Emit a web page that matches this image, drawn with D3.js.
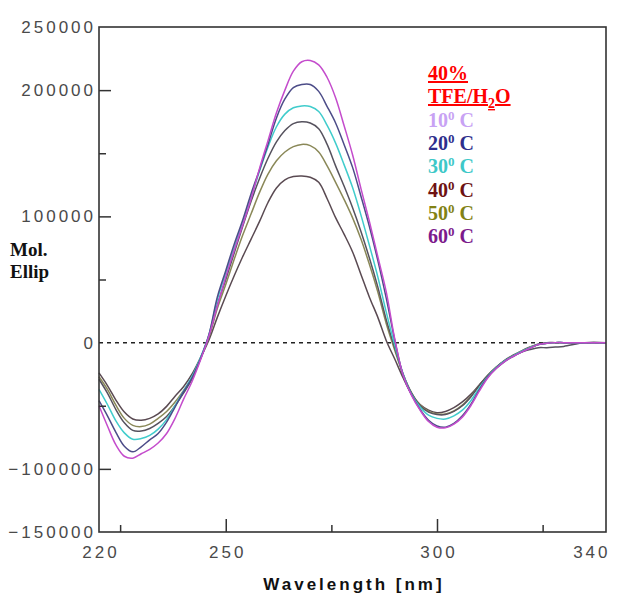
<!DOCTYPE html>
<html>
<head>
<meta charset="utf-8">
<script src="https://cdn.jsdelivr.net/npm/d3@7"></script>
<style>
  html, body { margin: 0; padding: 0; background: #fff; }
  svg { display: block; }
</style>
</head>
<body>
<svg id="chart" width="622" height="602"></svg>
<script>
// ---------- DATA ----------
const wavelengths = [220,222,224,226,228,230,232,234,236,238,240,242,244,246,248,250,252,254,256,258,260,262,264,266,268,270,272,274,276,278,280,282,284,286,288,290,292,294,296,298,300,302,304,306,308,310,312,314,316,318,320,322,324,326,328,330,335,340];

const seriesA = [-50000,-66000,-81000,-90000,-91500,-88000,-84500,-79500,-72000,-60000,
  -45000,-31000,-14000,5000,29000,52000,73000,93000,114000,138000,
  160000,182000,200000,215000,222500,223500,220000,210000,194000,172000,
  149000,122000,96000,68000,40000,3000,-26000,-42000,-53500,-62500,
  -67000,-67500,-64500,-59000,-50000,-38500,-28000,-20500,-15000,-11000,
  -7500,-4500,-1500,-500,0,0,0,0];
const seriesB = [-46000,-58000,-71000,-82000,-86500,-82500,-77000,-72000,-63000,-51000,
  -39000,-28000,-13000,6000,36000,57000,78000,97000,118000,137000,
  157000,178000,193000,202000,204500,204500,199000,187000,174000,157000,
  139000,116000,92000,65000,35000,2000,-26000,-41500,-53000,-61500,
  -66000,-67000,-64000,-58000,-49000,-37500,-27500,-20500,-15000,-11000,
  -7500,-4500,-1500,-500,0,0,0,0];
const seriesC = [-37000,-49000,-62000,-71500,-76500,-76000,-73500,-68500,-61000,-50000,
  -38500,-27000,-12000,6000,34000,55000,75000,95000,115000,136000,
  155000,171000,181000,186000,187500,187000,183000,172000,158000,141000,
  123000,101000,77000,52000,24000,-2000,-25000,-41000,-51000,-57500,
  -60000,-60500,-58000,-53500,-46000,-36000,-27000,-20000,-14500,-10500,
  -7000,-4000,-1500,-500,0,0,0,0];
const seriesD = [-29000,-40000,-53000,-63500,-69500,-70000,-68000,-64000,-58500,-50000,
  -40000,-29000,-13000,5000,30000,50000,71000,92000,112000,130000,
  146000,159000,168000,173500,175000,174000,169500,157000,140000,124000,
  107000,88000,67000,44000,18000,-4000,-25000,-40000,-50000,-55000,
  -57000,-57000,-54500,-50000,-43000,-34000,-26000,-19500,-14500,-10500,
  -7500,-5500,-4000,-4000,-3500,-3000,0,0];
const seriesE = [-27000,-37000,-49500,-60000,-65500,-66500,-64500,-60000,-54500,-47000,
  -38000,-28000,-13000,4000,27000,46000,66000,85000,102000,119000,
  133500,144000,151000,155200,157000,156000,151000,140000,127000,113500,
  99000,82000,62000,40000,15000,-6000,-25500,-40000,-49500,-54500,
  -56500,-56500,-54000,-49500,-42500,-34000,-26000,-19500,-14500,-10500,
  -7000,-4000,-1500,-500,0,0,0,0];
const seriesF = [-24000,-34000,-45500,-55000,-60500,-61500,-60000,-56500,-50500,-42500,
  -35000,-25000,-12000,2000,20000,37000,53000,68000,82000,96000,
  111000,122500,129000,131500,132000,131000,127000,114000,99000,86000,
  72000,54000,36000,20000,1500,-13000,-28000,-41000,-49000,-53500,
  -55500,-54500,-51500,-47000,-41000,-33500,-26000,-19500,-14000,-10000,
  -6500,-3500,-1000,0,0,0,0,0];

const yTickLabels = [250000, 200000, 100000, 0, -100000, -150000];
const yMajorTicks = [200000, 100000, -100000];
const yMinorTicks = [150000, 50000, -50000];
const xTickLabels = [220, 250, 300, 340];
const xMajorTicks = [250, 300];
const xMinorTicks = [225, 275, 325];

const legendTitle1 = "40%";
const legendTitle2 = ["TFE/H", "2", "O"];
const legendTemps = ["10", "20", "30", "40", "50", "60"];

// ---------- STYLES ----------
const curveColors = ["#5a4a52", "#8a8858", "#56525e", "#40cccc", "#4c4c88", "#c44ccc"];
const curveSeries = [seriesF, seriesE, seriesD, seriesC, seriesB, seriesA];
const legendColors = ["#c8a2f4", "#2e2e8c", "#3ec8c8", "#6e1212", "#828214", "#7c1a8c"];

// ---------- LAYOUT ----------
const svg = d3.select("#chart");
const L = 99, R = 606, T = 27, B = 532;
const x = d3.scaleLinear().domain([220, 340]).range([L, R]);
const y = d3.scaleLinear().domain([-150000, 250000]).range([B, T]);

const tickFont = "'Liberation Sans', Arial, sans-serif";
const serif = "'Liberation Serif', 'Times New Roman', serif";

// zero dashed line
svg.append("line")
  .attr("x1", x(220)).attr("x2", x(340))
  .attr("y1", y(0)).attr("y2", y(0))
  .attr("stroke", "#222").attr("stroke-width", 1.5)
  .attr("stroke-dasharray", "4,4");

// curves
const line = d3.line()
  .x((d, i) => x(wavelengths[i]))
  .y(d => y(d))
  .curve(d3.curveCatmullRom.alpha(0.5));

svg.append("g").selectAll("path")
  .data(curveSeries)
  .join("path")
  .attr("d", d => line(d))
  .attr("fill", "none")
  .attr("stroke", (d, i) => curveColors[i])
  .attr("stroke-width", 1.5);

// frame
svg.append("rect")
  .attr("x", L).attr("y", T).attr("width", R - L).attr("height", B - T)
  .attr("fill", "none").attr("stroke", "#333").attr("stroke-width", 1.6);

// y axis labels
const yAxis = d3.axisLeft(y).tickValues(yTickLabels).tickSize(0).tickPadding(3)
  .tickFormat(d3.format("d"));
const gy = svg.append("g").attr("transform", `translate(${L},0)`).call(yAxis);
gy.select(".domain").remove();
gy.selectAll("text")
  .attr("font-family", tickFont).attr("font-size", 17)
  .attr("letter-spacing", "3px").attr("fill", "#4a4a4a");

// y inner ticks
const gyMaj = svg.append("g").attr("transform", `translate(${L},0)`)
  .call(d3.axisRight(y).tickValues(yMajorTicks).tickSize(12).tickFormat(""));
gyMaj.select(".domain").remove();
gyMaj.selectAll("line").attr("stroke", "#333").attr("stroke-width", 1.5);
const gyMin = svg.append("g").attr("transform", `translate(${L},0)`)
  .call(d3.axisRight(y).tickValues(yMinorTicks).tickSize(7).tickFormat(""));
gyMin.select(".domain").remove();
gyMin.selectAll("line").attr("stroke", "#333").attr("stroke-width", 1.5);

// x axis labels
const xAxis = d3.axisBottom(x).tickValues(xTickLabels).tickSize(0).tickPadding(14)
  .tickFormat(d3.format("d"));
const gx = svg.append("g").attr("transform", `translate(0,${B})`).call(xAxis);
gx.select(".domain").remove();
gx.selectAll("text")
  .attr("font-family", tickFont).attr("font-size", 17)
  .attr("letter-spacing", "3px").attr("fill", "#4a4a4a")
  .attr("dx", "1.5");
// last label sits flush against the right edge, as in the reference
gx.selectAll(".tick").filter(d => d === 340).select("text")
  .attr("text-anchor", "end").attr("dx", "4");

// x inner ticks
const gxMaj = svg.append("g").attr("transform", `translate(0,${B})`)
  .call(d3.axisTop(x).tickValues(xMajorTicks).tickSize(13).tickFormat(""));
gxMaj.select(".domain").remove();
gxMaj.selectAll("line").attr("stroke", "#333").attr("stroke-width", 1.5);
const gxMin = svg.append("g").attr("transform", `translate(0,${B})`)
  .call(d3.axisTop(x).tickValues(xMinorTicks).tickSize(7).tickFormat(""));
gxMin.select(".domain").remove();
gxMin.selectAll("line").attr("stroke", "#333").attr("stroke-width", 1.5);

// x axis title
svg.append("text")
  .attr("x", 354).attr("y", 590)
  .attr("text-anchor", "middle")
  .attr("font-family", tickFont).attr("font-weight", "bold")
  .attr("font-size", 17).attr("letter-spacing", "3px").attr("fill", "#111")
  .text("Wavelength [nm]");

// y axis title
svg.append("text").attr("x", 10).attr("y", 256)
  .attr("font-family", serif).attr("font-weight", "bold").attr("font-size", 19)
  .attr("fill", "#111").text("Mol.");
svg.append("text").attr("x", 10).attr("y", 278)
  .attr("font-family", serif).attr("font-weight", "bold").attr("font-size", 19)
  .attr("fill", "#111").text("Ellip");

// legend
const lg = svg.append("g").attr("font-family", serif).attr("font-weight", "bold").attr("font-size", 20);
lg.append("text").attr("x", 428).attr("y", 80).attr("fill", "#ff0000")
  .attr("text-decoration", "underline").text(legendTitle1);
const t2 = lg.append("text").attr("x", 428).attr("y", 103).attr("fill", "#ff0000")
  .attr("text-decoration", "underline");
t2.append("tspan").text(legendTitle2[0]);
t2.append("tspan").attr("dy", 5).attr("font-size", 14).text(legendTitle2[1]);
t2.append("tspan").attr("dy", -5).text(legendTitle2[2]);

legendTemps.forEach((t, i) => {
  const tx = lg.append("text").attr("x", 428).attr("y", 127 + i * 23.2).attr("fill", legendColors[i]);
  tx.append("tspan").text(t);
  tx.append("tspan").attr("dy", -7).attr("font-size", 13).text("0");
  tx.append("tspan").attr("dy", 7).text(" C");
});
</script>
</body>
</html>
